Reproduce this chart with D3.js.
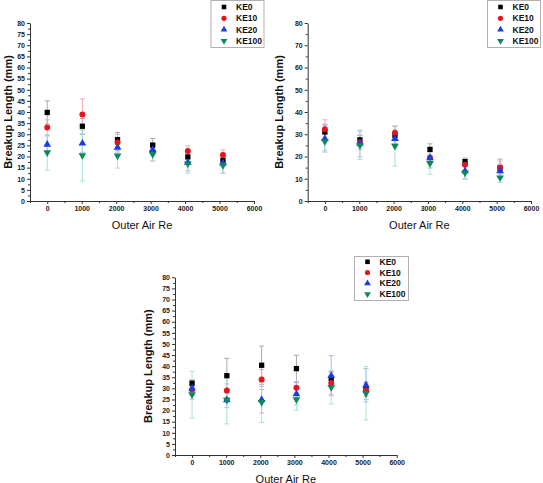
<!DOCTYPE html>
<html><head><meta charset="utf-8">
<script src="https://cdn.jsdelivr.net/npm/d3@7"></script>
<style>body{margin:0;background:#fff}svg{display:block}</style>
</head><body>
<svg id="c" width="543" height="483"></svg>
<script>
const seriesNames = ["KE0","KE10","KE20","KE100"];
const reValues = [0,1020,2040,3060,4080,5100];
const xTicks = [0,1000,2000,3000,4000,5000,6000];

// Panel A (top-left)
const aKE0 = [39.8,33.6,27.6,25.1,19.8,18.3];
const aKE10 = [33.0,38.9,26.3,22.0,22.5,20.7];
const aKE20 = [25.4,25.9,24.0,23.0,17.3,17.0];
const aKE100 = [21.8,20.5,20.3,21.0,16.8,16.0];
const aErr0 = [5.2,3.5,3.2,3.0,2.0,1.8];
const aErr10 = [3.5,7.0,3.6,4.0,2.3,2.3];
const aErr20 = [3.8,4.0,2.0,2.0,3.8,4.5];
const aErr100 = [8.0,11.5,5.5,3.0,4.3,3.5];
const aYTicks = [0,5,10,15,20,25,30,35,40,45,50,55,60,65,70,75,80];

// Panel B (top-right)
const bKE0 = [31.0,27.5,29.5,23.2,17.7,14.8];
const bKE10 = [32.2,26.3,30.7,19.5,16.3,15.0];
const bKE20 = [28.0,25.8,28.0,19.3,13.5,13.5];
const bKE100 = [26.8,25.0,24.7,17.0,12.7,10.5];
const bErr0 = [3.5,2.0,4.0,2.5,1.6,4.0];
const bErr10 = [4.3,3.3,3.0,2.5,2.5,3.0];
const bErr20 = [6.0,6.0,2.0,4.5,3.5,3.0];
const bErr100 = [4.0,6.3,9.0,5.0,3.0,2.2];
const bYTicks = [0,10,20,30,40,50,60,70,80];

// Panel C (bottom)
const cKE0 = [32.3,35.7,40.4,38.9,34.5,29.5];
const cKE10 = [29.4,29.0,34.0,30.3,32.4,29.0];
const cKE20 = [30.0,24.8,24.9,27.5,35.7,31.4];
const cKE100 = [27.2,24.8,23.7,25.0,30.5,27.8];
const cErr0 = [1.5,7.8,8.6,6.0,3.0,3.0];
const cErr10 = [4.3,3.0,4.5,2.5,5.0,4.0];
const cErr20 = [3.0,3.5,6.0,5.0,9.0,7.5];
const cErr100 = [10.5,10.8,9.0,4.8,7.5,12.0];
const cYTicks = [0,5,10,15,20,25,30,35,40,45,50,55,60,65,70,75,80];

const markColors = ["#000000","#e8141b","#1a3ce8","#0b8a55"];
const errColors = ["#a0a0a0","#f2a3ad","#a8aef2","#9fe3cc"];
const shapes = [d3.symbolSquare,d3.symbolCircle,d3.symbolTriangle,d3.symbolTriangle];
const sizes = [28,28,26,26];

const svg = d3.select("#c");
const FONT = "Liberation Sans, Arial, sans-serif";

function panel(cfg){
  const g = svg.append("g");
  const x = d3.scaleLinear().domain([-500,6000]).range([cfg.x0,cfg.x1]);
  const y = d3.scaleLinear().domain([0,80]).range([cfg.y0,cfg.y1]);
  g.append("g").attr("transform",`translate(0,${cfg.y0})`)
    .call(d3.axisBottom(x).tickValues(xTicks).tickFormat(d3.format("d")).tickSize(3).tickSizeOuter(0).tickPadding(2));
  const xm = g.append("g").attr("transform",`translate(0,${cfg.y0})`)
    .call(d3.axisBottom(x).tickValues(d3.range(-500,6001,500).filter(v=>v%1000!==0)).tickSize(2).tickFormat("").tickSizeOuter(0));
  xm.select(".domain").remove();
  g.append("g").attr("transform",`translate(${cfg.x0},0)`)
    .call(d3.axisLeft(y).tickValues(cfg.yTicks).tickFormat(d3.format("d")).tickSize(3).tickSizeOuter(0).tickPadding(2));
  const step = cfg.yTicks[1]-cfg.yTicks[0];
  const ym = g.append("g").attr("transform",`translate(${cfg.x0},0)`)
    .call(d3.axisLeft(y).tickValues(d3.range(step/2,80,step)).tickSize(2).tickFormat("").tickSizeOuter(0));
  ym.select(".domain").remove();
  g.selectAll(".domain,.tick line").attr("stroke","#333").attr("stroke-width",1);
  g.selectAll(".tick text").attr("font-family",FONT).attr("font-weight","bold").attr("font-size",7).attr("fill","#222");
  g.append("text").attr("x",(cfg.x0+cfg.x1)/2).attr("y",cfg.y0+27.5).attr("text-anchor","middle")
    .attr("font-family",FONT).attr("font-size",11).attr("fill","#111").text("Outer Air Re");
  g.append("text").attr("transform",`translate(${cfg.ylx},${(cfg.y0+cfg.y1)/2}) rotate(-90)`)
    .attr("text-anchor","middle").attr("font-family",FONT).attr("font-weight","bold").attr("font-size",11).attr("fill","#111")
    .text("Breakup Length (mm)");
  cfg.vals.forEach((vals,si)=>{
    const errs = cfg.errs[si];
    const eg = g.append("g").attr("stroke",errColors[si]).attr("stroke-width",1).attr("opacity",0.9);
    vals.forEach((v,i)=>{
      const cx = x(reValues[i]);
      eg.append("line").attr("x1",cx).attr("x2",cx).attr("y1",y(v-errs[i])).attr("y2",y(v+errs[i]));
      [v-errs[i],v+errs[i]].forEach(e=>eg.append("line").attr("x1",cx-2.5).attr("x2",cx+2.5).attr("y1",y(e)).attr("y2",y(e)));
    });
  });
  cfg.vals.forEach((vals,si)=>{
    g.append("g").selectAll("path").data(vals).join("path")
      .attr("transform",(v,i)=>`translate(${x(reValues[i])},${y(v)})${si===3?" rotate(180)":""}`)
      .attr("d",d3.symbol().type(shapes[si]).size(sizes[si]))
      .attr("fill",markColors[si]);
  });
  const L = cfg.leg;
  const lg = g.append("g");
  lg.append("rect").attr("x",L.x+0.5).attr("y",L.y+0.5).attr("width",L.w).attr("height",L.h)
    .attr("fill","#fff").attr("stroke","#b0b0b0");
  seriesNames.forEach((n,si)=>{
    const ry = L.y+L.first+si*L.step;
    lg.append("path").attr("transform",`translate(${L.x+13.5},${ry})${si===3?" rotate(180)":""}`)
      .attr("d",d3.symbol().type(shapes[si]).size(sizes[si]*0.75)).attr("fill",markColors[si]);
    lg.append("text").attr("x",L.x+25.5).attr("y",ry+3).attr("font-family",FONT).attr("font-weight","bold")
      .attr("font-size",8.5).attr("fill","#111").text(n);
  });
}

panel({x0:30,x1:254,y0:201,y1:23,ylx:12,yTicks:aYTicks,
  vals:[aKE0,aKE10,aKE20,aKE100],errs:[aErr0,aErr10,aErr20,aErr100],
  leg:{x:210.5,y:0,w:53,h:47,first:7,step:11.3}});
panel({x0:307.7,x1:531,y0:201,y1:23,ylx:283,yTicks:bYTicks,
  vals:[bKE0,bKE10,bKE20,bKE100],errs:[bErr0,bErr10,bErr20,bErr100],
  leg:{x:487,y:0,w:53,h:47,first:7,step:11.3}});
panel({x0:175,x1:396.7,y0:455,y1:277.3,ylx:152,yTicks:cYTicks,
  vals:[cKE0,cKE10,cKE20,cKE100],errs:[cErr0,cErr10,cErr20,cErr100],
  leg:{x:354,y:256,w:54,h:44,first:5.8,step:10.8}});
</script>
</body></html>
